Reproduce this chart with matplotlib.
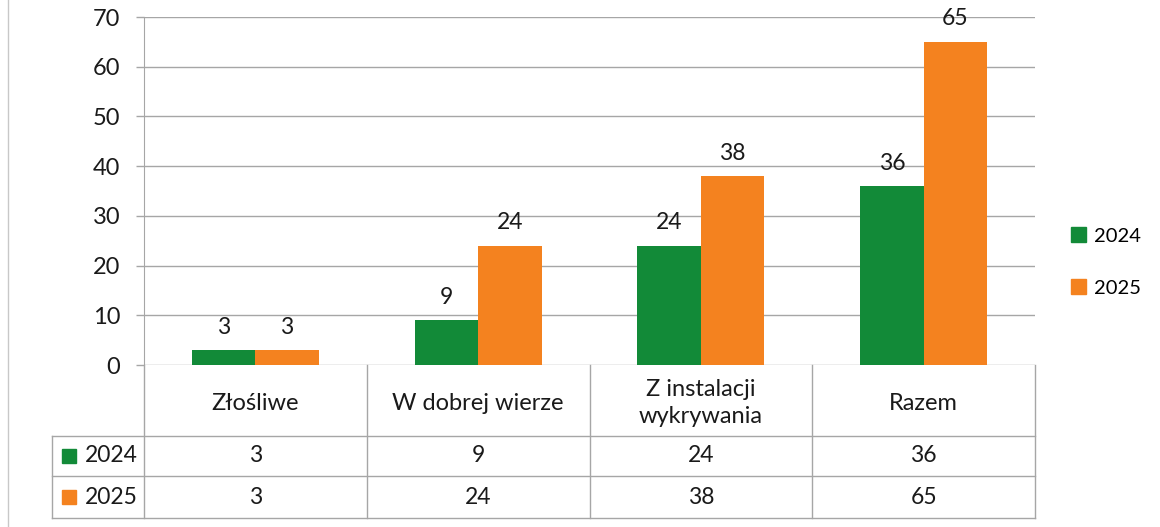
import matplotlib
matplotlib.use("Agg")
import matplotlib.pyplot as plt
from matplotlib.patches import Rectangle
from matplotlib.lines import Line2D

plt.rcParams["font.family"] = ["Lato", "DejaVu Sans"]

categories = ["Złośliwe", "W dobrej wierze", "Z instalacji\nwykrywania", "Razem"]
series_names = ["2024", "2025"]
values_2024 = [3, 9, 24, 36]
values_2025 = [3, 24, 38, 65]
y_ticks = [0, 10, 20, 30, 40, 50, 60, 70]

GREEN = "#128a38"
ORANGE = "#f4821f"
GRID = "#a6a6a6"
TEXT = "#1a1a1a"

W, H = 1160, 527
fig = plt.figure(figsize=(W / 100, H / 100), dpi=100)


def px_axes(x0, y0, x1, y1):
    return fig.add_axes([x0 / W, 1 - y1 / H, (x1 - x0) / W, (y1 - y0) / H])


# bar area
ax = px_axes(144, 17, 1035, 365)
n = len(categories)
xs = list(range(n))
bar_w = 0.285
series = [(values_2024, GREEN), (values_2025, ORANGE)]
for i, (vals, color) in enumerate(series):
    offs = (i - 0.5) * bar_w
    bars = ax.bar([x + offs for x in xs], vals, width=bar_w, color=color, zorder=3)
    for rect, v in zip(bars, vals):
        ax.annotate(str(v), (rect.get_x() + rect.get_width() / 2, v),
                    xytext=(0, 9), textcoords="offset points",
                    ha="center", va="bottom", fontsize=16.5, color=TEXT)

ax.set_xlim(-0.5, n - 0.5)
ax.set_ylim(0, 70)
ax.set_yticks(y_ticks)
ax.set_xticks([])
ax.grid(axis="y", color=GRID, linewidth=1.0, zorder=0)
for side in ("top", "right", "bottom"):
    ax.spines[side].set_visible(False)
ax.spines["left"].set_color(GRID)
ax.tick_params(axis="y", length=6, color=GRID, width=1.0, pad=11,
               labelsize=17, labelcolor=TEXT)

# legend on the right
leg_handles = [Rectangle((0, 0), 1, 1, color=c) for _, c in series]
fig.legend(leg_handles, series_names, loc="center left",
           bbox_to_anchor=(1053 / W, 1 - 262 / H), frameon=False,
           fontsize=14.5, handlelength=0.75, handleheight=0.75,
           handletextpad=0.4, labelspacing=1.7)

# data table below the axis
tab = px_axes(144, 365, 1035, 520)
tab.set_xlim(-0.5, n - 0.5)
tab.set_ylim(155, 0)
tab.axis("off")
left = -0.5 - 92 / 222.75
row_lines = [71, 111, 153]
for y in row_lines:
    tab.add_line(Line2D([left, n - 0.5], [y, y], color=GRID, lw=1.0, clip_on=False))
for k in range(n + 1):
    tab.add_line(Line2D([k - 0.5, k - 0.5], [0, 153], color=GRID, lw=1.0, clip_on=False))
tab.add_line(Line2D([left, left], [71, 153], color=GRID, lw=1.0, clip_on=False))

for x, cat in zip(xs, categories):
    tab.text(x, 38, cat, ha="center", va="center", fontsize=17, color=TEXT,
             linespacing=1.3)

row_centers = [91, 132]
for (vals, color), name, yc in zip(series, series_names, row_centers):
    tab.add_patch(Rectangle((left + 10 / 222.75, yc - 7), 14 / 222.75, 14,
                            color=color, clip_on=False))
    tab.text(left + 33 / 222.75, yc, name, ha="left", va="center",
             fontsize=16.5, color=TEXT)
    for x, v in zip(xs, vals):
        tab.text(x, yc, str(v), ha="center", va="center", fontsize=16.5, color=TEXT)

# faint outer frame line on the left of the scan
fig.add_artist(Line2D([8 / W, 8 / W], [0, 1], color="#c8c8c8", lw=1.0))

fig.savefig("out.png", dpi=100)
